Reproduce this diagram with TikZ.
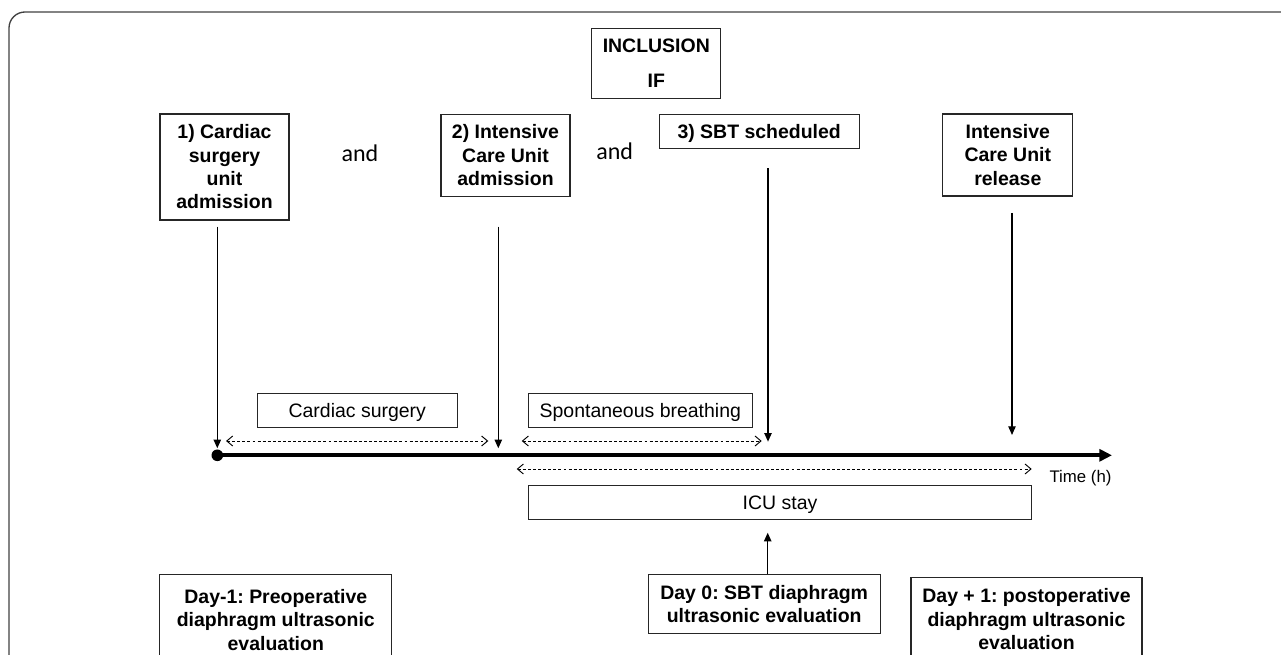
\documentclass[tikz,border=0pt]{standalone}
\usepackage{fontspec}
\setmainfont{Liberation Sans}
\newfontfamily\andfont{Carlito}
\usetikzlibrary{arrows.meta}
\frenchspacing
\begin{document}
\begin{tikzpicture}[x=0.75pt,y=-0.75pt,
 box/.style={draw=black!85, line width=0.8pt, inner sep=0pt, align=center, font=\fontsize{14.6}{17.5}\selectfont\bfseries},
 lbox/.style={draw=black!85, line width=0.8pt, inner sep=0pt, align=center, font=\fontsize{14.6}{17.5}\selectfont},
 wh/.style 2 args={minimum width=#1*0.75pt, minimum height=#2*0.75pt},
 conn/.style={line width=1pt, -{Triangle[width=5.5pt,length=6.5pt]}},
 span/.style={line width=0.7pt, dash pattern=on 2.2pt off 1.6pt, {Straight Barb[length=4.5pt,width=7.5pt]}-{Straight Barb[length=4.5pt,width=7.5pt]}},
 andtxt/.style={font=\andfont\fontsize{18}{21}\selectfont}]
\useasboundingbox (0,0) rectangle (1281,655);
\clip (0,0) rectangle (1281,655);
\draw[black!75, line width=1pt, rounded corners=12pt] (9,12) rectangle (1330,710);

% top boxes
\node[box, wh={129.3}{70.4}, font=\fontsize{14.6}{26.25}\selectfont\bfseries] (incl) at (656.3,63.5) {INCLUSION\\IF};
\node[box, wh={129}{106}] (b1) at (224.5,167) {1) Cardiac\\surgery\\unit\\admission};
\node[andtxt] (and1) at (360,153) {and};
\node[box, wh={129}{81.7}] (b2) at (505.5,155.2) {2) Intensive\\Care Unit\\admission};
\node[andtxt] (and2) at (614.7,151.7) {and};
\node[box, wh={199.7}{34.3}, text depth=0pt] (b3) at (759.2,131.2) {3) SBT scheduled};
\node[box, wh={129.8}{82}] (b4) at (1007.8,155) {Intensive\\Care Unit\\release};

% timeline
\coordinate (t0) at (217.3,455.3);
\coordinate (t1) at (1112,455.3);
\draw[line width=3pt, -{Triangle[width=9pt,length=9.5pt]}] (t0) -- (t1);
\node[circle, fill, inner sep=0pt, minimum size=8.7pt] (dot) at (t0) {};

% vertical arrows
\coordinate (s1) at (217.3,226.7); \coordinate (e1) at (217.3,448.3);
\coordinate (s2) at (498.3,226.7); \coordinate (e2) at (498.3,448.3);
\coordinate (s3) at (768,168.3);   \coordinate (e3) at (768,441.7);
\coordinate (s4) at (1012,213);    \coordinate (e4) at (1012,435);
\draw[conn] (s1) -- (e1);
\draw[conn] (s2) -- (e2);
\draw[conn] (s3) -- (e3);
\draw[conn] (s4) -- (e4);

% period labels
\node[lbox, wh={200}{34.4}, text depth=0pt] (cs) at (357.3,410.5) {Cardiac surgery};
\node[lbox, wh={224}{34.4}, text depth=0pt] (sb) at (640.3,410.5) {Spontaneous breathing};
\node[lbox, wh={503.4}{34}, text depth=0pt] (icu) at (780,502.3) {ICU stay};
\node[font=\fontsize{12.6}{15}\selectfont] (time) at (1080.5,478.3) {Time (h)};

% dashed spans
\coordinate (a1) at (226,441);   \coordinate (a2) at (488.3,441);
\coordinate (a3) at (521.7,441); \coordinate (a4) at (761.7,441);
\coordinate (a5) at (516.7,469); \coordinate (a6) at (1031.7,469);
\draw[span] (a1) -- (a2);
\draw[span] (a3) -- (a4);
\draw[span] (a5) -- (a6);

% bottom boxes
\node[box, wh={231.7}{90}, anchor=north] (d1) at (275.8,574.3) {Day-1: Preoperative\\diaphragm ultrasonic\\evaluation};
\node[box, wh={231.7}{58.4}, anchor=north] (d0) at (764.2,574.3) {Day 0: SBT diaphragm\\ultrasonic evaluation};
\node[box, wh={231}{84}, anchor=north] (d2) at (1026.5,576.7) {Day + 1: postoperative\\diaphragm ultrasonic\\evaluation};

\coordinate (u1) at (767.7,532.7);
\draw[conn] (d0.north -| u1) -- (u1);
\end{tikzpicture}
\end{document}
